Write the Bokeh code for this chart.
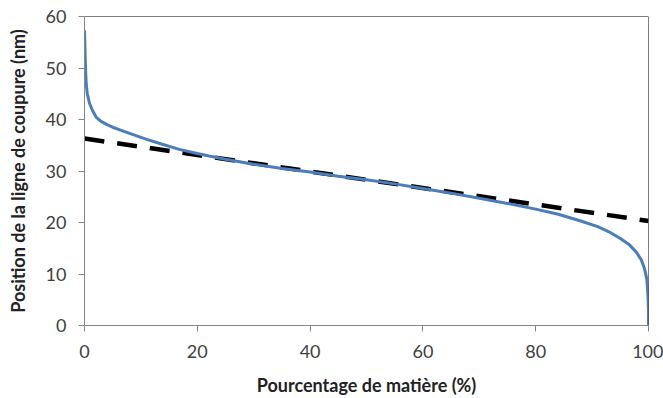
from bokeh.plotting import figure
from bokeh.models import Range1d, Span, FixedTicker
from bokeh.embed import file_html
from bokeh.resources import INLINE

# Blue bearing (Abbott-Firestone) curve
curve_x = [0.0, 0.1, 0.2, 0.3, 0.5, 0.9, 1.4, 2.1, 3.0, 4.0, 5.0, 6.5, 8.5, 10.9,
           13.5, 16.8, 20.0, 22.1, 25.0, 30.0, 35.0, 40.0, 45.0, 50.0, 55.0, 60.0,
           65.0, 70.0, 75.0, 80.0, 84.0, 88.0, 91.0, 93.0, 95.0, 96.5, 97.8, 98.7,
           99.3, 99.7, 99.9, 100.0, 100.0]
curve_y = [57.3, 53.0, 49.5, 47.0, 45.0, 43.1, 41.8, 40.4, 39.6, 39.0, 38.5, 37.9,
           37.1, 36.2, 35.3, 34.2, 33.4, 32.9, 32.3, 31.3, 30.5, 29.8, 29.0, 28.3,
           27.5, 26.6, 25.7, 24.7, 23.7, 22.6, 21.6, 20.3, 19.2, 18.2, 16.9, 15.8,
           14.3, 12.8, 11.0, 9.0, 6.0, 3.0, 0.0]

# Dashed black linear reference line
line_x = [0.0, 100.0]
line_y = [36.3, 20.3]

x_ticks = [0, 20, 40, 60, 80, 100]
y_ticks = [0, 10, 20, 30, 40, 50, 60]

p = figure(width=663, height=398, output_backend="svg", toolbar_location=None,
           x_range=Range1d(0, 100), y_range=Range1d(0, 60),
           min_border_left=84, min_border_right=15, min_border_top=16,
           min_border_bottom=73)

p.line(line_x, line_y, line_color="black", line_width=4.5, line_dash="20 13")
p.line(curve_x, curve_y, line_color="#4a7ebb", line_width=3)

p.add_layout(Span(location=60, dimension="width", line_color="black", line_width=1))
p.add_layout(Span(location=100, dimension="height", line_color="black", line_width=1))

p.outline_line_color = None
p.xgrid.grid_line_color = None
p.ygrid.grid_line_color = None
p.background_fill_color = "white"
p.border_fill_color = "white"

p.xaxis.ticker = FixedTicker(ticks=x_ticks)
p.yaxis.ticker = FixedTicker(ticks=y_ticks)

for ax in (p.xaxis[0], p.yaxis[0]):
    ax.axis_line_color = "#868686"
    ax.axis_line_width = 1
    ax.major_tick_line_color = "#868686"
    ax.major_tick_out = 6
    ax.major_tick_in = 0
    ax.minor_tick_line_color = None
    ax.major_label_text_font = "Lato"
    ax.major_label_text_font_size = "18px"
    ax.major_label_text_color = "#404040"
    ax.axis_label_text_font = "Lato"
    ax.axis_label_text_font_size = "18px"
    ax.axis_label_text_font_style = "bold"
    ax.axis_label_text_color = "#222222"

p.xaxis.axis_label = "Pourcentage de matière (%)"
p.yaxis.axis_label = "Position de la ligne de coupure (nm)"
p.xaxis.major_label_standoff = 13
p.yaxis.major_label_standoff = 12
p.xaxis.axis_label_standoff = 13
p.yaxis.axis_label_standoff = 14

open("out.html", "w").write(file_html(p, INLINE))
